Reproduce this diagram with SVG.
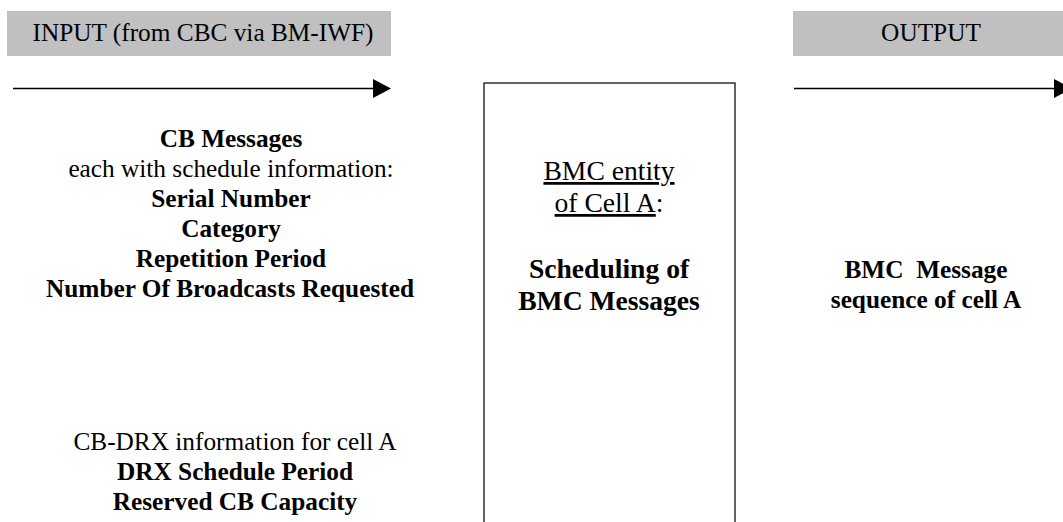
<svg xmlns="http://www.w3.org/2000/svg" width="1063" height="522" viewBox="0 0 1063 522">
<style>
.t{font-family:"Liberation Serif","Times New Roman",serif;font-size:25.3px;fill:#000;text-anchor:middle}
.b{font-weight:bold}
.c{font-size:27.6px}
.band{fill:#c0c0c0}
.ln{stroke:#000;stroke-width:1.6;fill:none}
.u{text-decoration:underline}
</style>
<defs>
<marker id="ah" markerWidth="18" markerHeight="19" refX="0" refY="9.5" orient="auto" markerUnits="userSpaceOnUse">
<path d="M0,0 L18,9.5 L0,19 Z" fill="#000"/>
</marker>
</defs>
<g id="input-header">
<rect class="band" x="7" y="11" width="384" height="45"/>
<text class="t" x="203" y="41">INPUT (from CBC via BM-IWF)</text>
</g>
<g id="output-header">
<rect class="band" x="793" y="11" width="270" height="45"/>
<text class="t" x="931" y="41">OUTPUT</text>
</g>
<g id="connectors">
<line class="ln" x1="13" y1="88.5" x2="373" y2="88.5" marker-end="url(#ah)"/>
<line class="ln" x1="794" y1="88.5" x2="1054" y2="88.5" marker-end="url(#ah)"/>
</g>
<g id="cb-messages">
<text class="t b" x="231" y="147">CB Messages</text>
<text class="t" x="231" y="177">each with schedule information:</text>
<text class="t b" x="231" y="207">Serial Number</text>
<text class="t b" x="231" y="237">Category</text>
<text class="t b" x="231" y="267">Repetition Period</text>
<text class="t b" x="230" y="297">Number Of Broadcasts Requested</text>
</g>
<g id="cb-drx">
<text class="t" x="235" y="450">CB-DRX information for cell A</text>
<text class="t b" x="235" y="480">DRX Schedule Period</text>
<text class="t b" x="235" y="510">Reserved CB Capacity</text>
</g>
<g id="bmc-entity">
<rect x="484" y="83" width="251" height="460" fill="#fff" stroke="#222" stroke-width="1.4"/>
<text class="t c" x="609" y="180"><tspan class="u">BMC entity</tspan></text>
<text class="t c" x="609" y="212"><tspan class="u">of Cell A</tspan>:</text>
<text class="t c b" x="609" y="278">Scheduling of</text>
<text class="t c b" x="609" y="310">BMC Messages</text>
</g>
<g id="bmc-output">
<text class="t b" x="926" y="278" xml:space="preserve">BMC  Message</text>
<text class="t b" x="926" y="308">sequence of cell A</text>
</g>
</svg>
